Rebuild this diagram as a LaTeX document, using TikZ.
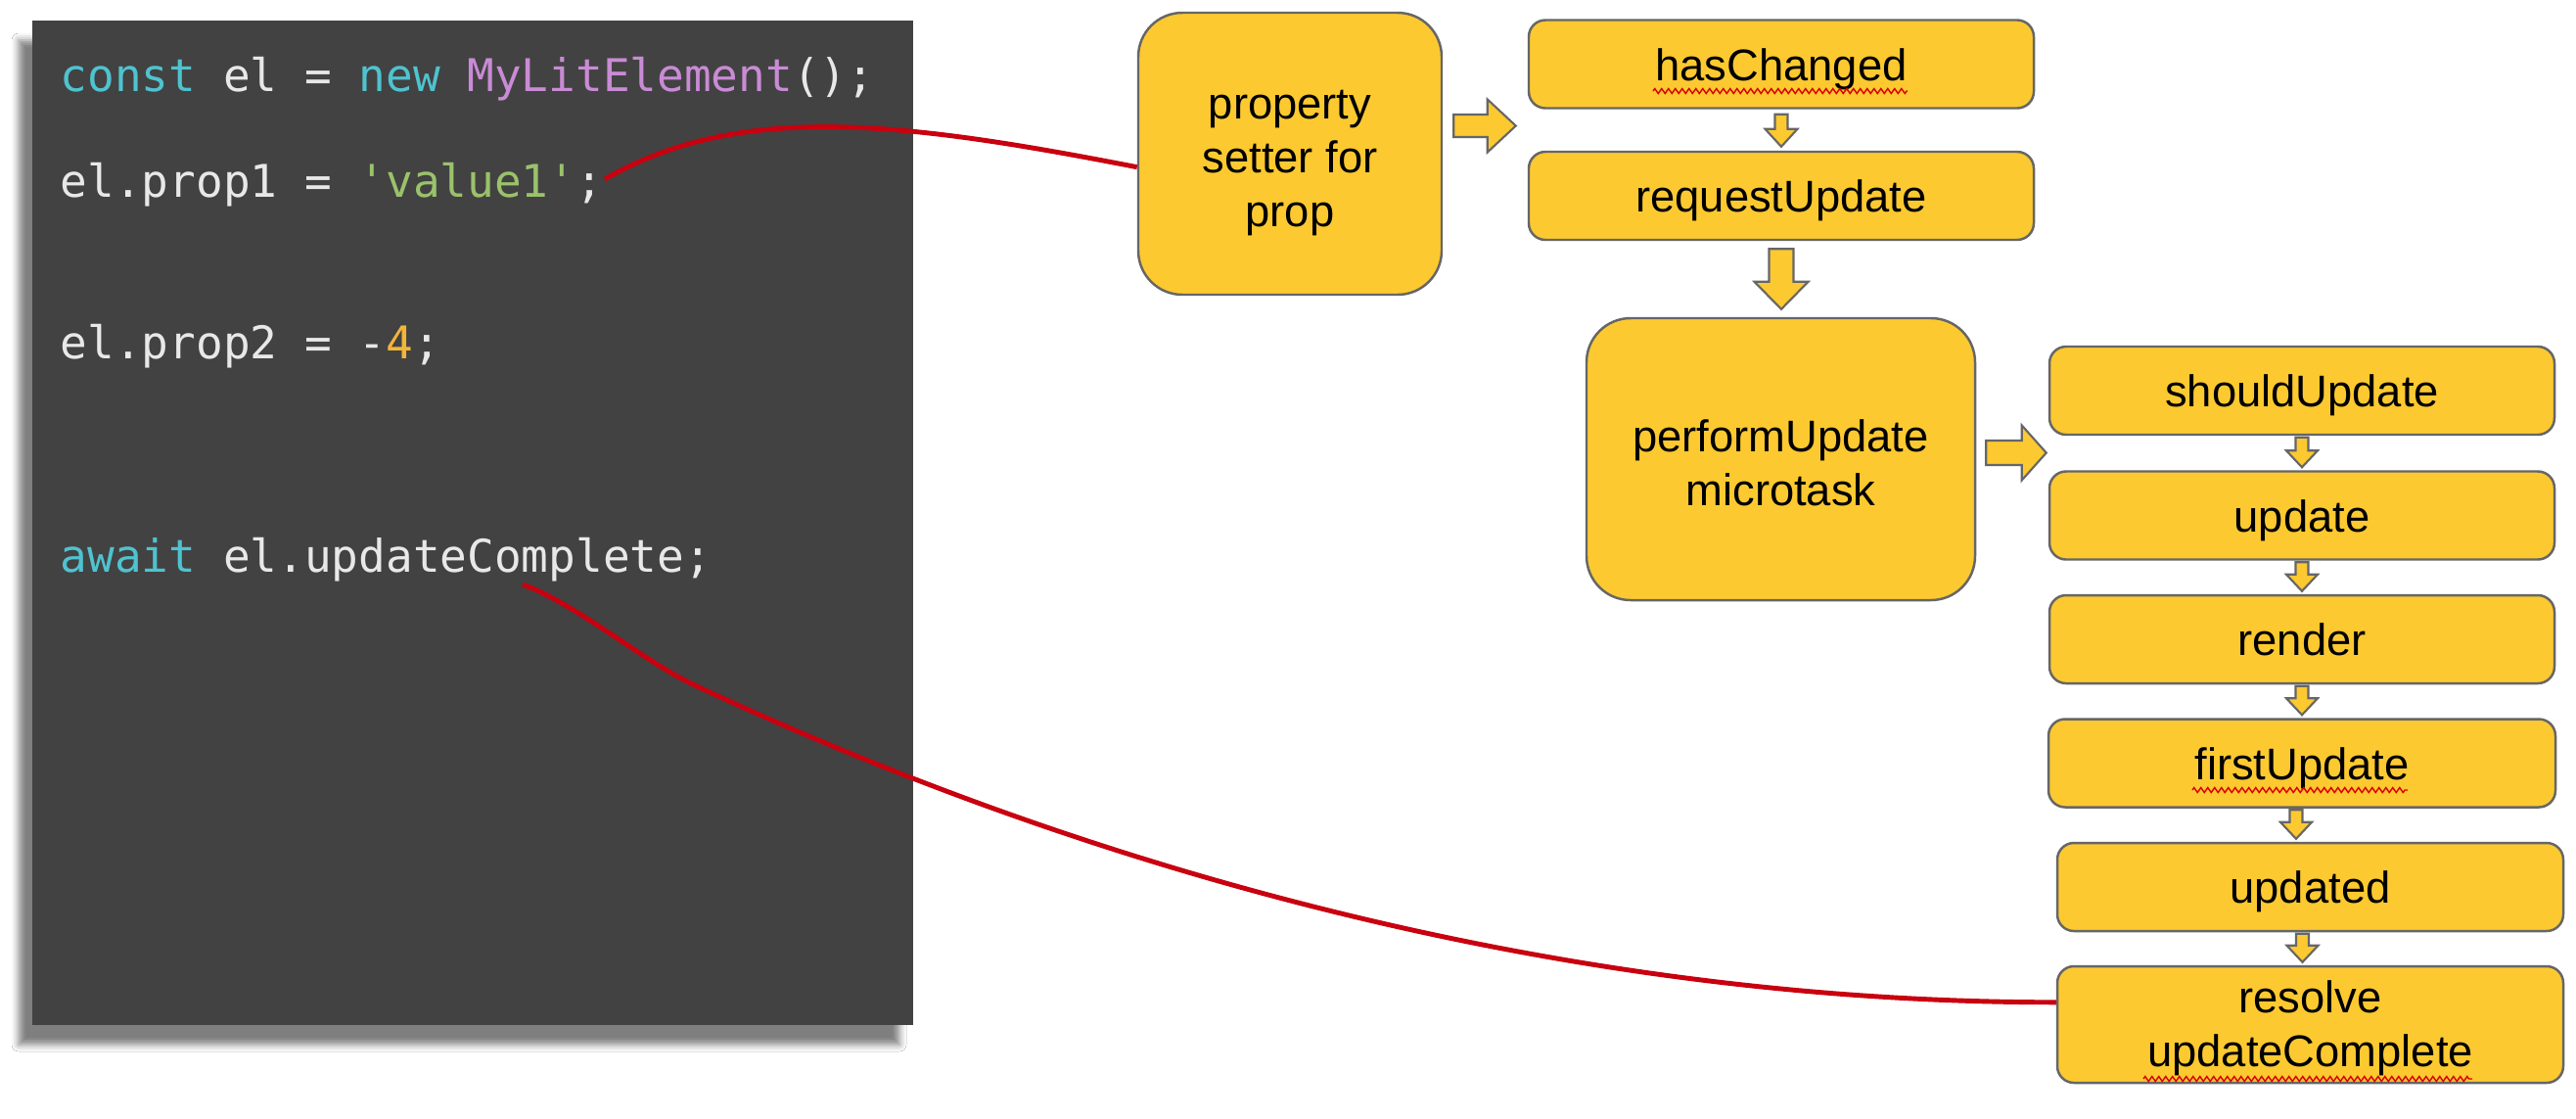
\documentclass[tikz,border=0pt]{standalone}
\usepackage{fontspec}
\setmainfont{Liberation Sans}
\setmonofont{DejaVu Sans Mono}
\usetikzlibrary{calc,shadows.blur,decorations.pathmorphing}

\definecolor{panelgray}{HTML}{424242}
\definecolor{boxyellow}{HTML}{FCC930}
\definecolor{boxborder}{HTML}{666666}
\definecolor{linkred}{HTML}{C8000F}
\definecolor{kwcyan}{HTML}{4FC3CF}
\definecolor{clspurple}{HTML}{C98BD5}
\definecolor{strgreen}{HTML}{9BC26B}
\definecolor{numorange}{HTML}{F3B43A}
\definecolor{codewhite}{HTML}{E8E8E8}

\tikzset{
  codeline/.style={anchor=base west, inner sep=0pt, text=codewhite,
    font=\ttfamily\fontsize{13.1}{15}\selectfont},
  yellowbox/.style={draw=boxborder, line width=0.7pt, fill=boxyellow,
    rounded corners=0.17cm, minimum width=5.16cm, minimum height=0.9cm,
    inner sep=0pt, align=center, font=\fontsize{12.9}{15.6}\selectfont},
  stepbox/.style={yellowbox, text height=0.42cm, text depth=0.09cm},
  bigbox/.style={yellowbox, rounded corners=0.45cm, minimum height=2.88cm},
  blockarrow/.style={draw=boxborder, line width=0.6pt, fill=boxyellow, line join=miter},
  link/.style={draw=linkred, line width=1.4pt},
  squiggle/.style={draw=red!85!black, line width=0.4pt, decorate,
    decoration={zigzag, amplitude=0.025cm, segment length=0.07cm}}
}

% block arrows: from, to, shaft half width, head half width, head length
\newcommand{\downblock}[5]{%
  \path[blockarrow] let \p1=#1, \p2=#2 in
    (\x1-#3,\y1) -- (\x1+#3,\y1) -- (\x1+#3,\y2+#5) -- (\x1+#4,\y2+#5)
    -- (\x1,\y2) -- (\x1-#4,\y2+#5) -- (\x1-#3,\y2+#5) -- cycle;}
\newcommand{\rightblock}[5]{%
  \path[blockarrow] let \p1=#1, \p2=#2 in
    (\x1,\y1+#3) -- (\x2-#5,\y1+#3) -- (\x2-#5,\y1+#4) -- (\x2,\y1)
    -- (\x2-#5,\y1-#4) -- (\x2-#5,\y1-#3) -- (\x1,\y1-#3) -- cycle;}

\begin{document}
\begin{tikzpicture}
  \fill[white] (0,0) rectangle (26.32,-11.42);
  \useasboundingbox (0,0) rectangle (26.32,-11.42);

  % code panel
  \fill[panelgray, blur shadow={shadow xshift=-0.14cm, shadow yshift=-0.2cm,
    shadow blur radius=0.07cm, shadow opacity=50}] (0.33,-0.21) rectangle (9.33,-10.47);
  \node[codeline] (line1) at (0.61,-0.93)
    {\textcolor{kwcyan}{const} el = \textcolor{kwcyan}{new} \textcolor{clspurple}{MyLitElement}();};
  \node[codeline] (line2) at (0.61,-2.01) {el.prop1 = \textcolor{strgreen}{'value1'};};
  \node[codeline] (line3) at (0.61,-3.66) {el.prop2 = -\textcolor{numorange}{4};};
  \node[codeline] (line4) at (0.61,-5.84) {\textcolor{kwcyan}{await} el.updateComplete;};

  % lifecycle boxes
  \node[bigbox, minimum width=3.10cm] (setter) at (13.18,-1.57)
    {\rule{0pt}{13.6pt}property\\setter for\\prop};
  \node[stepbox] (hasChanged) at (18.20,-0.655) {hasChanged};
  \node[stepbox] (requestUpdate) at (18.20,-2.00) {requestUpdate};
  \node[bigbox, minimum width=3.97cm] (performUpdate) at (18.195,-4.69)
    {\rule{0pt}{11.3pt}performUpdate\\microtask};
  \node[stepbox] (shouldUpdate) at (23.52,-3.99) {shouldUpdate};
  \node[stepbox] (update) at (23.52,-5.265) {update};
  \node[stepbox] (render) at (23.52,-6.53) {render};
  \node[stepbox, minimum width=5.18cm] (firstUpdate) at (23.52,-7.795) {firstUpdate};
  \node[stepbox, minimum width=5.17cm] (updated) at (23.605,-9.06) {updated};
  \node[yellowbox, minimum width=5.17cm, minimum height=1.19cm] (resolve) at (23.605,-10.465)
    {\rule{0pt}{11.3pt}resolve\\updateComplete};

  % spelling marks
  \draw[squiggle] ($(hasChanged.center)+(-1.31,-0.275)$) -- ++(2.60,0);
  \draw[squiggle] ($(firstUpdate.center)+(-1.12,-0.275)$) -- ++(2.20,0);
  \draw[squiggle] ($(resolve.center)+(-1.705,-0.555)$) -- ++(3.36,0);

  % block arrows
  \rightblock{($(setter.east)+(0.11,0.285)$)}{($(hasChanged.west)+(-0.12,0)$)}{0.115cm}{0.27cm}{0.29cm}
  \rightblock{($(performUpdate.east)+(0.10,0.065)$)}{($(shouldUpdate.west)+(-0.02,0)$)}{0.125cm}{0.28cm}{0.25cm}
  \downblock{($(hasChanged.south)+(0,-0.05)$)}{($(requestUpdate.north)+(0,0.04)$)}{0.065cm}{0.165cm}{0.18cm}
  \downblock{($(requestUpdate.south)+(0,-0.08)$)}{($(performUpdate.north)+(0,0.08)$)}{0.125cm}{0.275cm}{0.28cm}
  \downblock{($(shouldUpdate.south)+(0,-0.015)$)}{($(update.north)+(0,0.03)$)}{0.065cm}{0.16cm}{0.17cm}
  \downblock{($(update.south)+(0,-0.015)$)}{($(render.north)+(0,0.03)$)}{0.065cm}{0.16cm}{0.17cm}
  \downblock{($(render.south)+(0,-0.015)$)}{($(firstUpdate.north)+(0,0.03)$)}{0.065cm}{0.16cm}{0.17cm}
  \downblock{($(firstUpdate.south)+(-0.06,-0.015)$)}{($(updated.north)+(0,0.03)$)}{0.065cm}{0.16cm}{0.17cm}
  \downblock{($(updated.south)+(-0.08,-0.015)$)}{($(resolve.north)+(0,0.03)$)}{0.065cm}{0.16cm}{0.17cm}

  % red links from the code
  \coordinate (valueEnd) at (6.18,-1.83);
  \coordinate (awaitEnd) at (5.34,-5.97);
  \coordinate (awaitBend) at (7.10,-7.00);
  \draw[link] (valueEnd) .. controls +(30:1.6) and +(169:2.4) .. (setter.185);
  \draw[link] (awaitEnd) .. controls +(-20:0.6) and +(155:0.6) .. (awaitBend)
    .. controls +(-25:4.5) and +(180:5) .. (resolve.175);
\end{tikzpicture}
\end{document}
